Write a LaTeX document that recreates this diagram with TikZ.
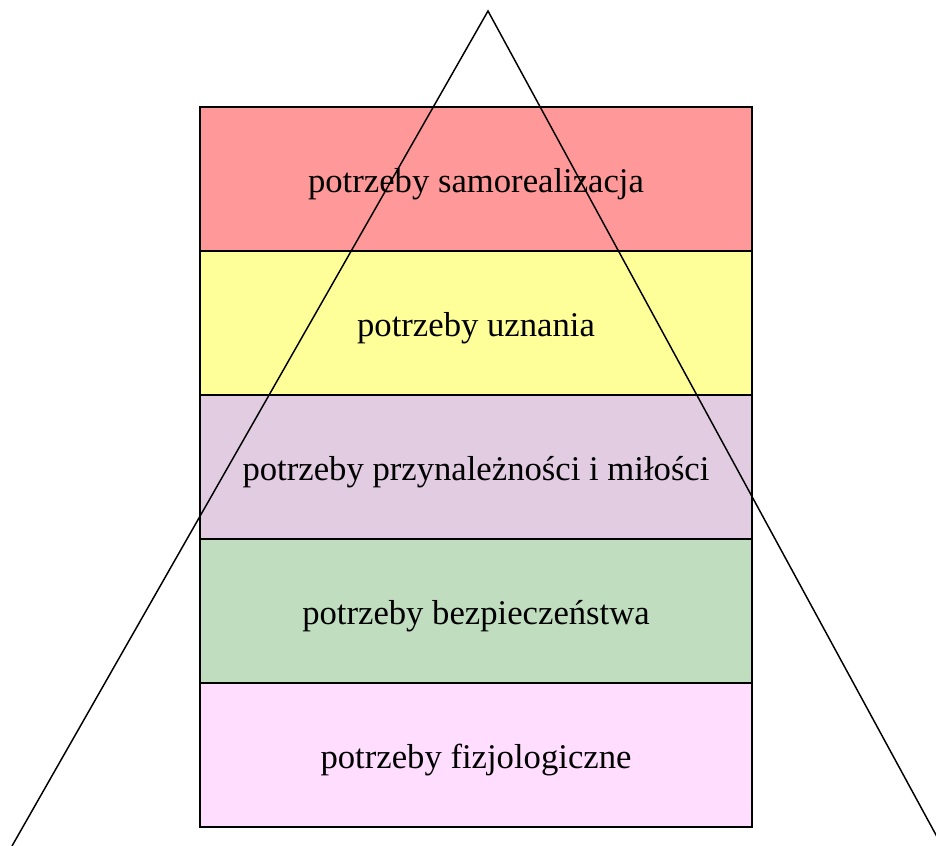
\documentclass[tikz,border=0pt]{standalone}
\usepackage{fontspec}
\setmainfont{Liberation Serif}
\usetikzlibrary{positioning}
\definecolor{lvlred}{RGB}{255,153,153}
\definecolor{lvlyellow}{RGB}{255,255,153}
\definecolor{lvlviolet}{RGB}{225,204,226}
\definecolor{lvlgreen}{RGB}{192,221,192}
\definecolor{lvlpink}{RGB}{255,221,255}
\tikzset{
  lvl/.style={draw, line width=1.5pt, outer sep=0pt, align=center,
              minimum width=414pt, minimum height=108pt,
              text height=24pt, text depth=4pt,
              font=\fontsize{26}{30}\selectfont},
  edge/.style={line width=1.1pt},
}

\begin{document}
\begin{tikzpicture}[x=0.75pt, y=0.75pt]
    \useasboundingbox (0,0) rectangle (936,846);
    \clip (0,0) rectangle (936,846);
    \node[lvl, fill=lvlred] (samo) at (476,667) {potrzeby samorealizacja};
    \node[lvl, fill=lvlyellow, below=0pt of samo] (uzn) {potrzeby uznania};
    \node[lvl, fill=lvlviolet, below=0pt of uzn] (mil)
      {potrzeby przynależności i miłości};
    \node[lvl, fill=lvlgreen, below=0pt of mil] (bezp)
      {potrzeby bezpieczeństwa};
    \node[lvl, fill=lvlpink, below=0pt of bezp] (fizj)
      {potrzeby fizjologiczne};
    % triangle
    \coordinate (top) at (488,835);
    \coordinate (baseL) at (12,0);
    \coordinate (baseR) at (942,0);
    \draw[edge] (baseL) -- (top) -- (baseR);
  \end{tikzpicture}
\end{document}
